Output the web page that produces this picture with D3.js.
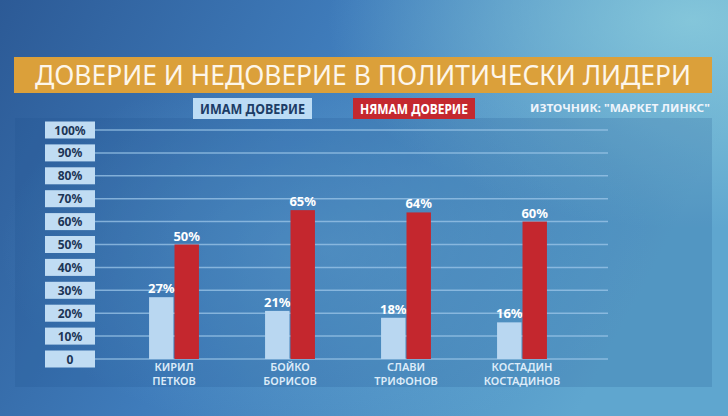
<!DOCTYPE html>
<html>
<head>
<meta charset="utf-8">
<script src="https://cdn.jsdelivr.net/npm/d3@7"></script>
<style>
  html, body { margin: 0; padding: 0; background: #2f6aa8; }
  svg { display: block; }
</style>
</head>
<body>
<div id="chart"></div>
<script>
// data
var leaders = ["Кирил Петков", "Бойко Борисов", "Слави Трифонов", "Костадин Костадинов"];
var trust = [27, 21, 18, 16];
var distrust = [50, 65, 64, 60];
var yTicks = [0, 10, 20, 30, 40, 50, 60, 70, 80, 90, 100];
var seriesNames = ["ИМАМ ДОВЕРИЕ", "НЯМАМ ДОВЕРИЕ"];

var width = 728,
    height = 416;

var svg = d3.select("#chart")
    .append("svg")
    .attr("xmlns", "http://www.w3.org/2000/svg")
    .attr("width", width)
    .attr("height", height)
    .style("font-family", "'Noto Sans', 'DejaVu Sans', sans-serif");

var defs = svg.append("defs");

var bg = defs.append("linearGradient").attr("id", "bg")
    .attr("x1", 0).attr("y1", 0).attr("x2", 1).attr("y2", 0.3);
bg.append("stop").attr("offset", "0%").attr("stop-color", "#2c5a96");
bg.append("stop").attr("offset", "45%").attr("stop-color", "#3f7cbb");
bg.append("stop").attr("offset", "100%").attr("stop-color", "#5fa6cf");

var glow = defs.append("radialGradient").attr("id", "glow")
    .attr("cx", 0.95).attr("cy", 0.05).attr("r", 0.5);
glow.append("stop").attr("offset", "0%").attr("stop-color", "#8fd0de").attr("stop-opacity", 0.8);
glow.append("stop").attr("offset", "100%").attr("stop-color", "#8fd0de").attr("stop-opacity", 0);

var glow2 = defs.append("radialGradient").attr("id", "glow2")
    .attr("cx", 0.45).attr("cy", 0.6).attr("r", 0.45);
glow2.append("stop").attr("offset", "0%").attr("stop-color", "#6fb2da").attr("stop-opacity", 0.45);
glow2.append("stop").attr("offset", "100%").attr("stop-color", "#6fb2da").attr("stop-opacity", 0);

svg.append("rect").attr("width", width).attr("height", height).attr("fill", "url(#bg)");
svg.append("rect").attr("width", width).attr("height", height).attr("fill", "url(#glow2)");
svg.append("rect").attr("width", width).attr("height", height).attr("fill", "url(#glow)");

// chart panel
svg.append("rect")
    .attr("x", 15).attr("y", 118)
    .attr("width", 697).attr("height", 269)
    .attr("fill", "#1d4f8c").attr("opacity", 0.18);

// title bar
svg.append("rect")
    .attr("x", 14).attr("y", 57)
    .attr("width", 698).attr("height", 36)
    .attr("fill", "#dba03a");

svg.append("text")
    .attr("x", 363).attr("y", 85)
    .attr("text-anchor", "middle")
    .attr("fill", "#fdf6ea")
    .attr("font-size", 27)
    .attr("textLength", 656)
    .attr("lengthAdjust", "spacingAndGlyphs")
    .text("ДОВЕРИЕ И НЕДОВЕРИЕ В ПОЛИТИЧЕСКИ ЛИДЕРИ");

// legend
var legendColors = ["#bcdcf5", "#c4282f"];
var legendText = ["#1c3d66", "#ffffff"];
var legendX = [193, 353];
var legendW = [119, 122];
seriesNames.forEach(function (name, i) {
    svg.append("rect")
        .attr("x", legendX[i]).attr("y", 98)
        .attr("width", legendW[i]).attr("height", 21)
        .attr("fill", legendColors[i]);
    svg.append("text")
        .attr("x", legendX[i] + legendW[i] / 2).attr("y", 114)
        .attr("text-anchor", "middle")
        .attr("fill", legendText[i])
        .attr("font-size", 14)
        .attr("font-weight", "bold")
        .attr("textLength", legendW[i] - 14)
        .attr("lengthAdjust", "spacingAndGlyphs")
        .text(name);
});

svg.append("text")
    .attr("x", 710).attr("y", 112)
    .attr("text-anchor", "end")
    .attr("fill", "#eef4fb")
    .attr("font-size", 10)
    .attr("font-weight", "bold")
    .attr("textLength", 180)
    .attr("lengthAdjust", "spacingAndGlyphs")
    .text("ИЗТОЧНИК: \"МАРКЕТ ЛИНКС\"");

// scales
var y = d3.scaleLinear().domain([0, 100]).range([359, 130]);
var x0 = d3.scaleBand().domain(leaders).range([116, 580]).paddingInner(0.57).paddingOuter(0.285);
var x1 = d3.scaleBand().domain([0, 1]).range([0, x0.bandwidth()]).paddingInner(0.04);

// gridlines
svg.append("g")
    .selectAll("line")
    .data(yTicks)
    .enter()
    .append("line")
    .attr("x1", 95).attr("x2", 608)
    .attr("y1", function (d) { return y(d); })
    .attr("y2", function (d) { return y(d); })
    .attr("stroke", "#9cc6e8")
    .attr("stroke-opacity", 0.75)
    .attr("stroke-width", 1.5);

// y tick boxes
var tick = svg.append("g")
    .selectAll(".tick")
    .data(yTicks)
    .enter()
    .append("g")
    .attr("class", "tick")
    .attr("transform", function (d) { return "translate(45," + y(d) + ")"; });

tick.append("rect")
    .attr("x", 0).attr("y", -8.5)
    .attr("width", 50).attr("height", 17)
    .attr("fill", "#c0dcf3");

tick.append("text")
    .attr("x", 25).attr("y", 4.5)
    .attr("text-anchor", "middle")
    .attr("fill", "#1c3556")
    .attr("font-size", 12)
    .attr("font-weight", "bold")
    .text(function (d) { return d === 0 ? "0" : d + "%"; });

// bars
var barColors = ["#b9d7f1", "#c4272e"];
var groups = svg.append("g")
    .selectAll(".grp")
    .data(leaders)
    .enter()
    .append("g")
    .attr("class", "grp")
    .attr("transform", function (d) { return "translate(" + x0(d) + ",0)"; });

groups.selectAll("rect")
    .data(function (d, i) { return [trust[i], distrust[i]]; })
    .enter()
    .append("rect")
    .attr("x", function (d, j) { return x1(j); })
    .attr("y", function (d) { return y(d); })
    .attr("width", x1.bandwidth())
    .attr("height", function (d) { return y(0) - y(d); })
    .attr("fill", function (d, j) { return barColors[j]; });

groups.selectAll(".val")
    .data(function (d, i) { return [trust[i], distrust[i]]; })
    .enter()
    .append("text")
    .attr("class", "val")
    .attr("x", function (d, j) { return x1(j) + x1.bandwidth() / 2; })
    .attr("y", function (d) { return y(d) - 4; })
    .attr("text-anchor", "middle")
    .attr("fill", "#ffffff")
    .attr("font-size", 13)
    .attr("font-weight", "bold")
    .text(function (d) { return d + "%"; });

// category labels, two lines
groups.each(function (d) {
    var parts = d.toUpperCase().split(" ");
    var g = d3.select(this);
    parts.forEach(function (p, k) {
        g.append("text")
            .attr("x", x0.bandwidth() / 2)
            .attr("y", 371 + k * 14)
            .attr("text-anchor", "middle")
            .attr("fill", "#dcebf8")
            .attr("font-size", 11)
            .attr("font-weight", 600)
            .text(p);
    });
});
</script>
</body>
</html>
